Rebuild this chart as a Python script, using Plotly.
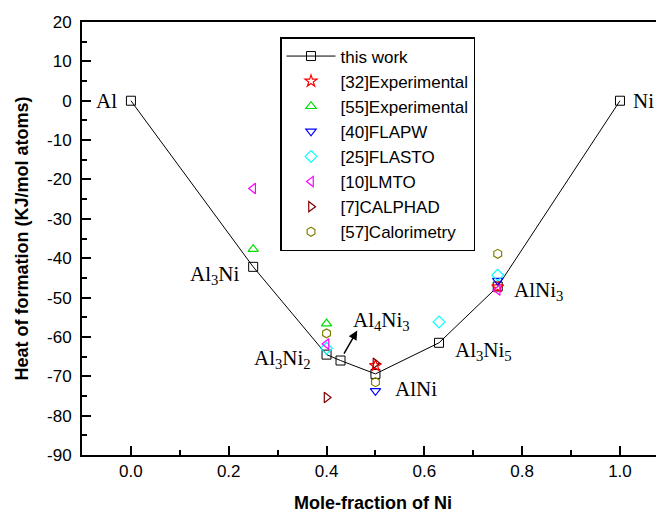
import plotly.graph_objects as go

# ---- data ----
x_this = [0.0, 0.25, 0.4, 0.4286, 0.5, 0.63, 0.75, 1.0]
y_this = [0.0, -42.2, -64.5, -66.0, -69.4, -61.5, -47.2, 0.0]

x_exp32 = [0.5, 0.75]
y_exp32 = [-67.3, -47.3]
x_exp55 = [0.25, 0.4]
y_exp55 = [-37.7, -56.6]
x_flapw = [0.5, 0.75]
y_flapw = [-73.7, -45.7]
x_flasto = [0.4, 0.63, 0.75]
y_flasto = [-62.9, -56.2, -44.3]
x_lmto = [0.25, 0.4, 0.75]
y_lmto = [-22.3, -61.8, -48.1]
x_calphad = [0.4, 0.5]
y_calphad = [-75.4, -66.7]
x_calor = [0.4, 0.5, 0.75]
y_calor = [-59.1, -71.5, -38.9]

# tick labels
y_tick_vals = [20, 10, 0, -10, -20, -30, -40, -50, -60, -70, -80, -90]
y_tick_text = ["20", "10", "0", "-10", "-20", "-30", "-40", "-50", "-60", "-70", "-80", "-90"]
x_tick_vals = [0.0, 0.2, 0.4, 0.6, 0.8, 1.0]
x_tick_text = ["0.0", "0.2", "0.4", "0.6", "0.8", "1.0"]

# phase labels: text, x, y, anchor
label_text = ["Al", "Ni", "Al<sub>3</sub>Ni", "Al<sub>3</sub>Ni<sub>2</sub>", "Al<sub>4</sub>Ni<sub>3</sub>",
              "AlNi", "Al<sub>3</sub>Ni<sub>5</sub>", "AlNi<sub>3</sub>"]
label_x = [-0.024, 1.022, 0.2265, 0.373, 0.449, 0.536, 0.659, 0.779]
label_y = [0.0, 0.0, -44.2, -65.5, -55.9, -73.2, -63.5, -48.3]
label_anchor = ["right", "left", "right", "right", "left", "left", "left", "left"]

fig = go.Figure()

fig.add_trace(go.Scatter(x=x_this, y=y_this, mode="lines+markers", name="this work",
                         line=dict(color="black", width=1),
                         marker=dict(symbol="square-open", size=9, color="black", line=dict(width=1))))

series = [
    ("[32]Experimental", x_exp32, y_exp32, "star-open", "#FF0000"),
    ("[55]Experimental", x_exp55, y_exp55, "triangle-up-open", "#00E000"),
    ("[40]FLAPW", x_flapw, y_flapw, "triangle-down-open", "#0000FF"),
    ("[25]FLASTO", x_flasto, y_flasto, "diamond-open", "#00FFFF"),
    ("[10]LMTO", x_lmto, y_lmto, "triangle-left-open", "#FF00FF"),
    ("[7]CALPHAD", x_calphad, y_calphad, "triangle-right-open", "#800000"),
    ("[57]Calorimetry", x_calor, y_calor, "hexagon-open", "#808000"),
]
for name, xs, ys, sym, col in series:
    fig.add_trace(go.Scatter(x=xs, y=ys, mode="markers", name=name,
                             marker=dict(symbol=sym, size=9, color=col, line=dict(width=1.2, color=col))))

for t, x, y, a in zip(label_text, label_x, label_y, label_anchor):
    fig.add_annotation(x=x, y=y, text=t, showarrow=False, xanchor=a, yanchor="middle",
                       font=dict(family="Liberation Serif", size=21, color="black"))

# arrow from Al4Ni3 point to its label
fig.add_annotation(x=0.4627, y=-58.4, ax=0.434, ay=-64.6, axref="x", ayref="y",
                   text="", showarrow=True, arrowhead=2, arrowsize=1.2, arrowwidth=1.5, arrowcolor="black")

axis_common = dict(showline=True, linecolor="black", linewidth=2, ticks="inside",
                   tickwidth=2, ticklen=9, tickcolor="black", showgrid=False, zeroline=False,
                   automargin=False,
                   tickfont=dict(family="Liberation Sans", size=17, color="black"))

fig.update_xaxes(range=[-0.1, 1.09], tickmode="array", tickvals=x_tick_vals, ticktext=x_tick_text,
                 mirror=True,
                 minor=dict(ticks="inside", dtick=0.1, tick0=0, ticklen=5, tickwidth=2, tickcolor="black"),
                 title=dict(text="<b>Mole-fraction of Ni</b>", standoff=17,
                            font=dict(family="Liberation Sans", size=18, color="black")),
                 **axis_common)
fig.update_yaxes(range=[-90, 20], tickmode="array", tickvals=y_tick_vals, ticktext=y_tick_text,
                 ticklabelstandoff=5,
                 minor=dict(ticks="inside", dtick=5, tick0=0, ticklen=5, tickwidth=2, tickcolor="black"),
                 title=dict(text="<b>Heat of formation (KJ/mol atoms)</b>", standoff=14,
                            font=dict(family="Liberation Sans", size=18, color="black")),
                 **axis_common)

# page body has an 8px margin, so the figure is 8px smaller and margins shifted
fig.update_layout(
    width=656, height=505,
    margin=dict(l=74, r=0, t=14, b=58),
    plot_bgcolor="white", paper_bgcolor="white",
    legend=dict(x=(272 - 74) / 582, y=(447 - 29) / 433, xanchor="left", yanchor="top",
                bgcolor="white", bordercolor="black", borderwidth=1.5,
                font=dict(family="Liberation Sans", size=17, color="black"),
                itemwidth=49, tracegroupgap=0),
    showlegend=True,
)

fig.write_html("out.html")
